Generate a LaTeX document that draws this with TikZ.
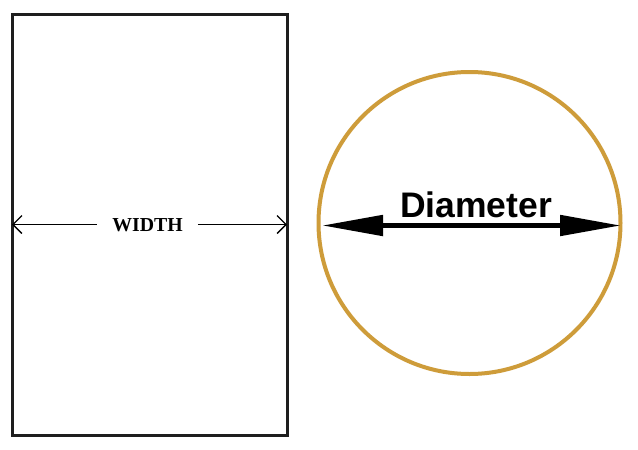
\documentclass[tikz,border=0pt]{standalone}
\usepackage{fontspec}
\setmainfont{Liberation Serif}
\newfontfamily\arialfont{Liberation Sans}
\usetikzlibrary{arrows.meta}
\definecolor{goldring}{RGB}{206,156,58}
\definecolor{inkdark}{RGB}{30,30,30}
\tikzset{
  box/.style={draw=inkdark,line width=3pt},
  ring/.style={draw=goldring,line width=4pt},
  thinline/.style={draw=black,line width=1.8pt},
  barb/.tip={Straight Barb[length=9pt,width=18pt,line width=1.3pt]},
  thickarrow/.style={draw=black,line width=5pt,{Triangle[length=61pt,width=20pt]}-{Triangle[length=61pt,width=20pt]}},
}
\begin{document}
\begin{tikzpicture}[x=1pt,y=-1pt]
\useasboundingbox[fill=white] (0,0) rectangle (638,450);
\draw[box] (12.5,14.5) rectangle (287,435);
\coordinate (wl) at (12,224.5);
\coordinate (wr) at (287,224.5);
\node[font=\fontsize{19.8}{20}\selectfont\bfseries,inner xsep=15pt,inner ysep=2pt] (wlabel) at (147.5,225) {WIDTH};
\draw[thinline,barb-] (wl) -- (wl -| wlabel.west);
\draw[thinline,-barb] (wr -| wlabel.east) -- (wr);
\node[ring,circle,minimum size=302pt,inner sep=0pt] (circ) at (469.5,223) {};
\coordinate (dl) at (322,225.5);
\coordinate (dr) at (621,225.5);
\draw[thickarrow] (dl) -- (dr);
\node[font=\fontsize{35.5}{37}\selectfont\arialfont\bfseries,anchor=base] (dlabel) at (476,217) {Diameter};
\end{tikzpicture}
\end{document}
